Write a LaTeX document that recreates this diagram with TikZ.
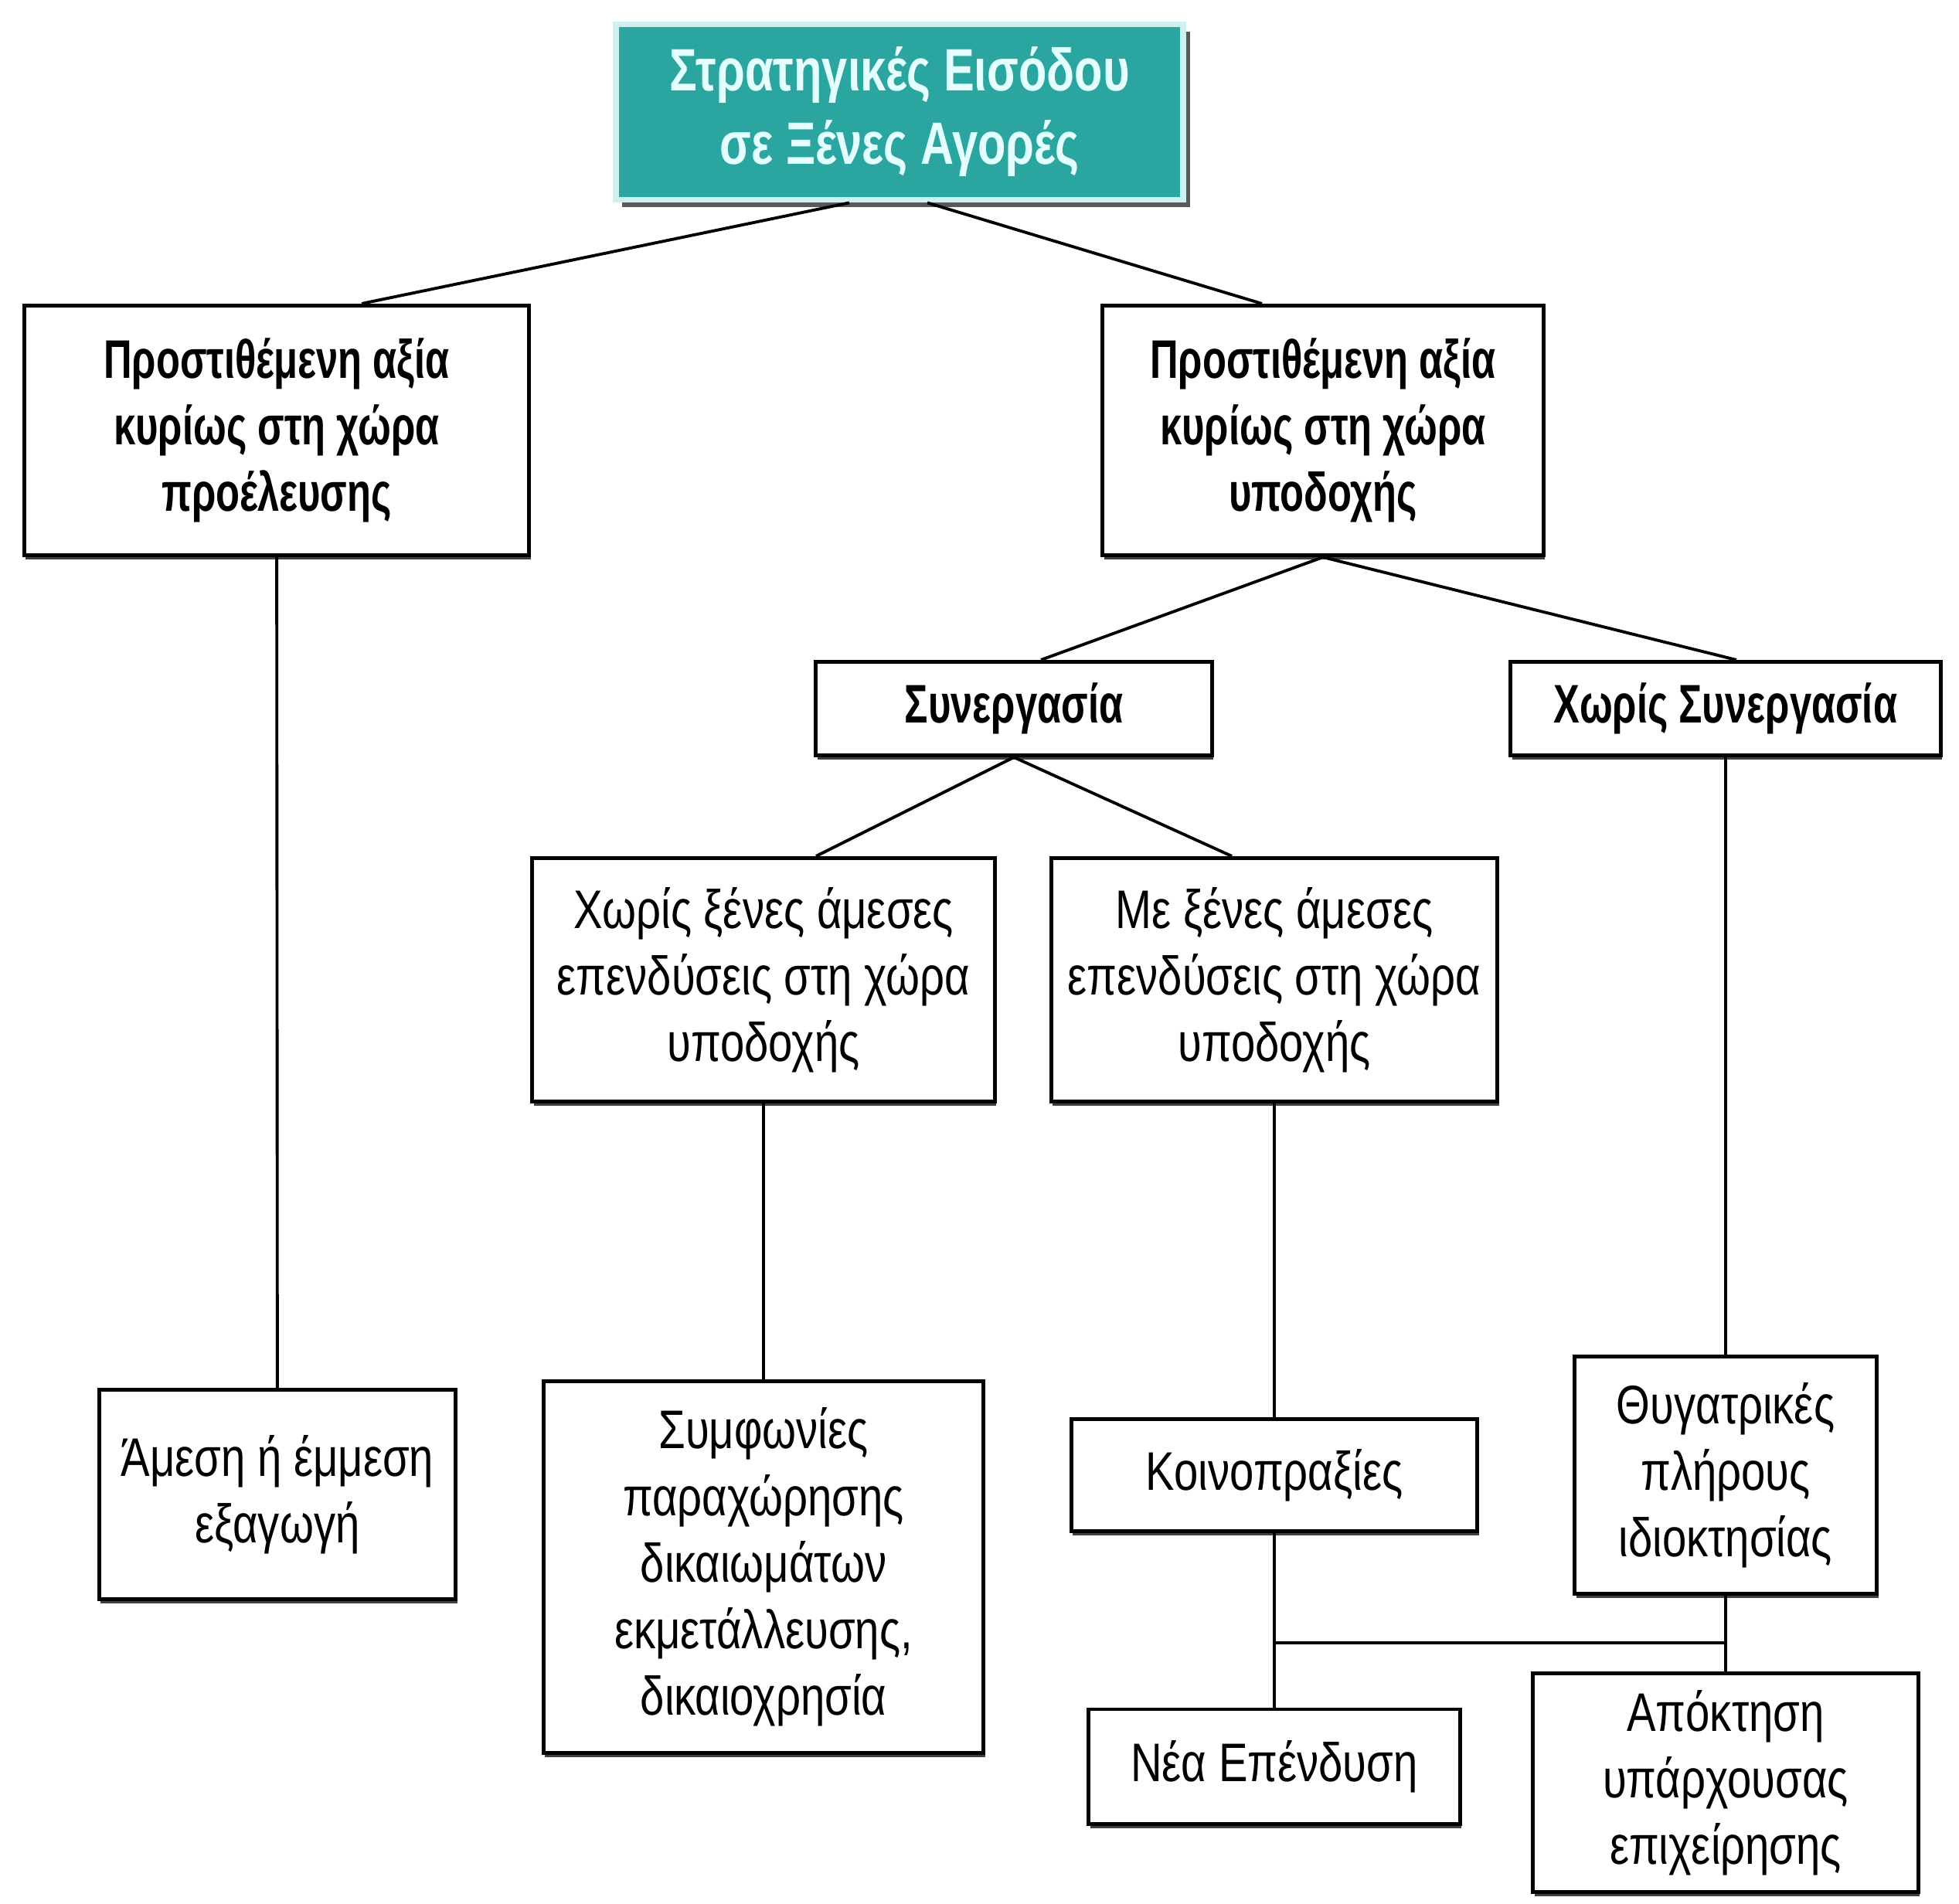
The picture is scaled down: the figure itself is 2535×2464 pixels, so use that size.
\documentclass[tikz,border=0pt]{standalone}
\usepackage{fontspec}
\usetikzlibrary{shadows}
\newfontfamily\hdfont[FakeStretch=0.72]{Liberation Sans}
\newfontfamily\rtfont[FakeStretch=0.77]{Liberation Sans}
\newfontfamily\txfont[FakeStretch=0.80]{Liberation Sans}
\definecolor{rootteal}{RGB}{42,165,160}
\definecolor{rootedge}{RGB}{205,240,240}
\definecolor{roottext}{RGB}{228,255,255}
\begin{document}
\begin{tikzpicture}[x=0.01cm, y=-0.01cm,
  bx/.style={draw, line width=1.4pt, fill=white, align=center, inner sep=0pt,
    drop shadow={shadow xshift=0.6pt, shadow yshift=-1.6pt, fill=black!75, opacity=1}},
  hd/.style={bx, font=\hdfont\bfseries\fontsize{20}{24.5}\selectfont},
  tx/.style={bx, font=\txfont\fontsize{20}{24.5}\selectfont},
  rootbox/.style={draw=rootedge, line width=2.2pt, fill=rootteal, text=roottext, align=center,
    font=\rtfont\bfseries\fontsize{22}{27}\selectfont, inner sep=0pt,
    drop shadow={shadow xshift=2.4pt, shadow yshift=-2.8pt, fill=black!65, opacity=1}},
  ln/.style={line width=1.1pt}]
\useasboundingbox (0,0) rectangle (2535,2464);
\node[rootbox, minimum width=7.34cm, minimum height=2.27cm] (root) at (1164,145) {Στρατηγικές Εισόδου\\σε Ξένες Αγορές};
\node[hd, minimum width=6.53cm, minimum height=3.23cm] (orig) at (358,557) {Προστιθέμενη αξία\\κυρίως στη χώρα\\προέλευσης};
\node[hd, minimum width=5.70cm, minimum height=3.23cm] (host) at (1712,557) {Προστιθέμενη αξία\\κυρίως στη χώρα\\υποδοχής};
\draw[ln]([xshift=-0.65cm]root.south) -- ([xshift=1.10cm]orig.north);
\draw[ln]([xshift=0.36cm]root.south) -- ([xshift=-0.79cm]host.north);
\node[hd, minimum width=5.12cm, minimum height=1.21cm] (coop) at (1312,917) {Συνεργασία};
\node[hd, minimum width=5.56cm, minimum height=1.21cm] (ncoop) at (2233,917) {Χωρίς Συνεργασία};
\draw[ln](host.south) -- ([xshift=0.35cm]coop.north);
\draw[ln](host.south) -- ([xshift=0.14cm]ncoop.north);
\node[tx, minimum width=5.98cm, minimum height=3.15cm] (nfdi) at (988,1268) {Χωρίς ξένες άμεσες\\επενδύσεις στη χώρα\\υποδοχής};
\node[tx, minimum width=5.77cm, minimum height=3.15cm] (wfdi) at (1649,1268) {Με ξένες άμεσες\\επενδύσεις στη χώρα\\υποδοχής};
\draw[ln](coop.south) -- ([xshift=0.68cm]nfdi.north);
\draw[ln](coop.south) -- ([xshift=-0.55cm]wfdi.north);
\node[tx, minimum width=4.61cm, minimum height=2.70cm] (exp) at (359,1934) {Άμεση ή έμμεση\\εξαγωγή};
\draw[ln](orig) -- (exp);
\node[tx, minimum width=5.69cm, minimum height=4.80cm] (lic) at (988,2028) {Συμφωνίες\\παραχώρησης\\δικαιωμάτων\\εκμετάλλευσης,\\δικαιοχρησία};
\draw[ln](nfdi) -- (lic);
\node[tx, minimum width=5.25cm, minimum height=1.45cm] (jv) at (1649,1909) {Κοινοπραξίες};
\draw[ln](wfdi) -- (jv);
\node[tx, minimum width=3.91cm, minimum height=3.07cm] (subs) at (2233,1909) {Θυγατρικές\\πλήρους\\ιδιοκτησίας};
\draw[ln](ncoop) -- (subs);
\node[tx, minimum width=4.80cm, minimum height=1.48cm] (newi) at (1649,2286) {Νέα Επένδυση};
\node[tx, minimum width=4.98cm, minimum height=2.83cm] (acq) at (2233,2307) {Απόκτηση\\υπάρχουσας\\επιχείρησης};
\coordinate (jn) at (1649,2126);
\coordinate (sn) at (2233,2126);
\draw[ln](jv) -- (newi);
\draw[ln](subs) -- (acq);
\draw[ln](jn) -- (sn);
\end{tikzpicture}
\end{document}
